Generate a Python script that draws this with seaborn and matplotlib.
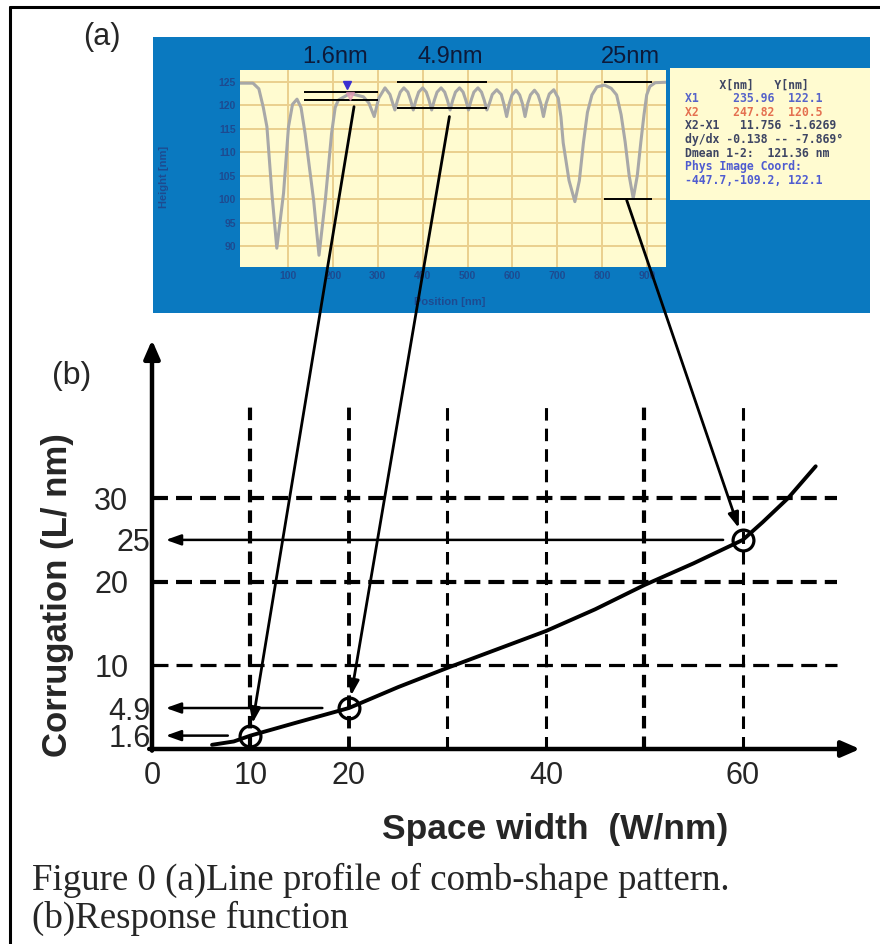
import matplotlib
matplotlib.use("Agg")
import matplotlib.pyplot as plt
import seaborn as sns
from matplotlib.patches import Rectangle, ConnectionPatch
from matplotlib.lines import Line2D

# ---------------- data: (b) response function ----------------
space_width = [6.1, 8.3, 10, 14.5, 20, 25, 30, 35, 40, 45, 50, 55, 60, 62, 64.6, 67.4]
corrugation = [0.5, 0.9, 1.6, 3.1, 4.9, 7.4, 9.7, 11.9, 14.1, 16.7, 19.6, 22.2, 25.0, 27.1, 30.0, 33.8]
marked_w = [10, 20, 60]
marked_c = [1.6, 4.9, 25]
readout_from_w = [7.7, 17.3, 58.0]
readout_to_w = 1.4
x_ticks = [0, 10, 20, 40, 60]
y_major_ticks = [10, 20, 30]
y_minor_ticks = [1.6, 4.9, 25]
v_grid = [10, 20, 30, 40, 50, 60]
h_grid = [10, 20, 30]

# ---------------- data: (a) line profile ----------------
profile_x = [-7, 22, 35, 45, 53, 64, 75, 90, 101, 110, 120, 129, 138, 157, 169, 183, 197, 205, 212,
             238, 268, 280, 292, 302, 316, 327,
             338, 344, 350, 358, 367, 373,
             379, 385, 391, 400, 408, 414,
             420, 426, 432, 441, 449, 455,
             461, 467, 473, 482, 490, 496,
             502, 508, 514, 523, 531, 537,
             543, 549, 555, 565, 575, 581,
             587, 593, 599, 608, 616, 622,
             628, 634, 640, 649, 657, 663,
             669, 675, 682, 692, 702, 708, 713, 726, 739, 749, 758, 767, 777, 788, 805,
             820, 832, 842, 851, 860, 869, 878, 886, 893, 899, 906, 918, 942]
profile_y = [124.7, 124.7, 123.5, 119.5, 115.4, 101.3, 89.6, 101.3, 115.4, 120.2, 121.3, 119.5, 114.0, 99.8, 88.1, 99.8, 114.0, 119.5, 121.1,
             122.5, 121.8, 120.5, 117.6, 121.5, 123.7, 122.3,
             119.0, 121.1, 122.8, 123.7, 122.8, 121.1,
             119.0, 121.1, 122.8, 123.7, 122.8, 121.1,
             119.0, 121.1, 122.8, 123.7, 122.8, 121.1,
             119.0, 121.1, 122.8, 123.7, 122.8, 121.1,
             119.0, 121.1, 122.8, 123.7, 122.8, 121.1,
             119.0, 120.5, 122.3, 123.3, 122.3, 120.2,
             117.6, 120.4, 122.2, 123.2, 122.2, 120.4,
             117.6, 120.4, 122.2, 123.2, 122.2, 120.4,
             117.6, 120.4, 122.4, 123.3, 121.5, 117.5, 112.0, 104.0, 99.5, 104.0, 112.0, 118.5, 122.2, 123.9, 124.3,
             123.6, 122.2, 118.0, 112.2, 105.0, 100.2, 105.0, 112.2, 118.0, 122.2, 124.0, 124.8, 124.9]
profile_xticks = [100, 200, 300, 400, 500, 600, 700, 800, 900]
profile_yticks = [90, 95, 100, 105, 110, 115, 120, 125]
step_labels = ["1.6nm", "4.9nm", "25nm"]
step_label_x = [205, 461, 862]
step_x0 = [136, 342, 803]
step_x1 = [301, 543, 910]
step_top = [122.9, 124.9, 124.9]
step_bottom = [121.1, 119.5, 100.0]
cursor_x = [232, 239]
cursor_y = [124.3, 122.0]
link_start_x = [247, 459.5, 854.5]
link_start_y = [119.7, 117.6, 99.8]
info_lines = ["     X[nm]   Y[nm]",
              "X1     235.96  122.1",
              "X2     247.82  120.5",
              "X2-X1   11.756 -1.6269",
              "dy/dx -0.138 -- -7.869\u00b0",
              "Dmean 1-2:  121.36 nm",
              "Phys Image Coord:",
              "-447.7,-109.2, 122.1"]
info_colors = ["#1c2550", "#3848c8", "#e0583a", "#1c2550", "#1c2550", "#1c2550", "#3040d0", "#3040d0"]

# ---------------- style ----------------
sns.set_style("white")
plt.rcParams["font.family"] = ["Liberation Sans", "DejaVu Sans"]
plt.rcParams["lines.scale_dashes"] = False

W, H = 880, 944
fig = plt.figure(figsize=(W / 100, H / 100), dpi=100)


def frect(l, t, r, b):
    return [l / W, 1 - b / H, (r - l) / W, (b - t) / H]


def fx(px):
    return px / W


def fy(py):
    return 1 - py / H


# outer frame (left and top)
fig.add_artist(Line2D([fx(10), fx(10)], [0, fy(7)], transform=fig.transFigure, color="black", lw=2.2))
fig.add_artist(Line2D([fx(10), 1], [fy(7), fy(7)], transform=fig.transFigure, color="black", lw=2.2))

# ---------------- (a) screenshot-like inset ----------------
blue = "#0a79c0"
cream = "#fffbd0"
ink = "#26377c"
fig.add_artist(Rectangle((fx(153), fy(313)), (870 - 153) / W, (313 - 37) / H,
                         transform=fig.transFigure, facecolor=blue, edgecolor="none", zorder=0))
fig.add_artist(Rectangle((fx(670), fy(200)), (870 - 670) / W, (200 - 68) / H,
                         transform=fig.transFigure, facecolor=cream, edgecolor="none", zorder=1))
for i, (line, col) in enumerate(zip(info_lines, info_colors)):
    fig.text(fx(685), fy(85 + i * 13.6), line, fontsize=8.3, family="DejaVu Sans Mono",
             fontweight="bold", color=col, va="center", ha="left", zorder=2, alpha=0.85)

ax_in = fig.add_axes(frect(240, 70, 666, 267))
ax_in.set_facecolor(cream)
sns.lineplot(x=profile_x, y=profile_y, ax=ax_in, color="#a8a8a8", linewidth=2.2, sort=False, zorder=3)
ax_in.set_xlim(-7, 942)
ax_in.set_ylim(85.6, 127.5)
ax_in.set_xticks(profile_xticks)
ax_in.set_yticks(profile_yticks)
ax_in.grid(True, color="#eacf8e", lw=1.4)
ax_in.tick_params(length=0, labelsize=7.5, labelcolor=ink, pad=3)
for lab in ax_in.get_xticklabels() + ax_in.get_yticklabels():
    lab.set_fontweight("bold")
    lab.set_alpha(0.7)
for s in ax_in.spines.values():
    s.set_visible(False)
ax_in.set_xlabel("Position [nm]", fontsize=8, color=ink, fontweight="bold", alpha=0.7)
ax_in.xaxis.set_label_coords(0.493, -0.178)
ax_in.xaxis.label.set_va("center")
ax_in.set_ylabel("Height [nm]", fontsize=8, color=ink, fontweight="bold", alpha=0.7)
ax_in.yaxis.set_label_coords(-0.178, 0.457)
ax_in.yaxis.label.set_va("center")
ax_in.hlines(step_top, step_x0, step_x1, color="black", lw=1.4, zorder=4)
ax_in.hlines(step_bottom, step_x0, step_x1, color="black", lw=1.4, zorder=4)
ax_in.plot(cursor_x[:1], cursor_y[:1], "v", color="#3a2fd0", ms=6, zorder=5)
ax_in.plot(cursor_x[1:], cursor_y[1:], "v", color="#e79ab8", ms=6, alpha=0.7, zorder=5)
for lab, lx in zip(step_labels, step_label_x):
    ax_in.text(lx, 130.3, lab, fontsize=17, color="#0d1a3a", ha="center", va="center", clip_on=False)

fig.text(fx(102), fy(37), "(a)", fontsize=22, ha="center", va="center")

# ---------------- (b) response function ----------------
ax = fig.add_axes(frect(152, 340, 860, 749))
ax.set_facecolor("none")
ax.set_xlim(0, 71.9)
ax.set_ylim(0, 48.9)
for s in ax.spines.values():
    s.set_visible(False)

v_lw = [3.0, 2.8, 2.2, 2.2, 3.0, 2.2]
h_lw = [2.3, 3.0, 3.0]
for v, lw in zip(v_grid, v_lw):
    ax.vlines(v, 0, 41.7, colors="black", lw=lw, linestyles=(0, (9.0, 5.8)), zorder=2)
for h, lw in zip(h_grid, h_lw):
    ax.hlines(h, 0, 69.6, colors="black", lw=lw, linestyles=(0, (11.5, 5.8)), zorder=2)

sns.lineplot(x=space_width, y=corrugation, ax=ax, color="black", linewidth=2.8, sort=False, zorder=5)
ax.plot(marked_w, marked_c, "o", ms=15, mfc="none", mec="black", mew=2.3, zorder=6)

small_head = "-|>,head_length=0.45,head_width=0.16"
for w0, c in zip(readout_from_w, marked_c):
    ax.annotate("", xy=(readout_to_w, c), xytext=(w0, c),
                arrowprops=dict(arrowstyle=small_head, mutation_scale=20, lw=1.8, color="black",
                                shrinkA=0, shrinkB=0), zorder=7)

# axis arrows
big_head = "-|>,head_length=0.55,head_width=0.24"
ax.annotate("", xy=(1, 0), xytext=(-0.004, 0), xycoords="axes fraction",
            arrowprops=dict(arrowstyle=big_head, mutation_scale=20, lw=3.2, color="black", shrinkA=0, shrinkB=0),
            annotation_clip=False)
ax.annotate("", xy=(0, 1), xytext=(0, -0.004), xycoords="axes fraction",
            arrowprops=dict(arrowstyle=big_head, mutation_scale=20, lw=3.2, color="black", shrinkA=0, shrinkB=0),
            annotation_clip=False)

ax.set_xticks(x_ticks, labels=[str(t) for t in x_ticks])
ax.set_yticks(y_major_ticks, labels=[str(t) for t in y_major_ticks])
ax.set_yticks(y_minor_ticks, labels=[f"{t:g}" for t in y_minor_ticks], minor=True)
ax.tick_params(axis="x", which="both", length=0, labelsize=22, pad=9)
ax.tick_params(axis="y", which="major", length=0, labelsize=22, pad=17)
ax.tick_params(axis="y", which="minor", length=0, labelsize=22, pad=1)

ax.set_xlabel("Space width  (W/nm)", fontsize=25.5, fontweight="bold")
ax.xaxis.set_label_coords(0.569, -0.198)
ax.xaxis.label.set_va("center")
ax.set_ylabel("Corrugation (L/ nm)", fontsize=25, fontweight="bold")
ax.yaxis.set_label_coords(-0.134, 0.377)
ax.yaxis.label.set_va("center")

fig.text(fx(72), fy(376), "(b)", fontsize=23, ha="center", va="center")

# links from the profile steps to the response curve
for sx, sy, w, c in zip(link_start_x, link_start_y, marked_w, marked_c):
    con = ConnectionPatch(xyA=(sx, sy), coordsA=ax_in.transData, xyB=(w, c), coordsB=ax.transData,
                          arrowstyle=small_head, mutation_scale=20, lw=2.0, color="black",
                          shrinkA=0, shrinkB=9, zorder=10)
    fig.add_artist(con)

# caption
fig.text(fx(32), fy(880), "Figure 0 (a)Line profile of comb-shape pattern.", fontsize=26.6,
         family=["Liberation Serif", "DejaVu Serif"], ha="left", va="center")
fig.text(fx(32), fy(918), "(b)Response function", fontsize=26.6,
         family=["Liberation Serif", "DejaVu Serif"], ha="left", va="center")

fig.savefig("out.png", dpi=100)
